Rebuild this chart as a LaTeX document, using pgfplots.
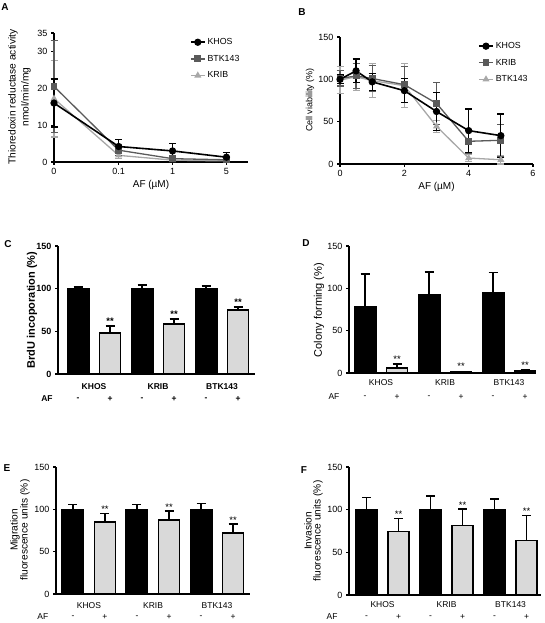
\documentclass[border=0pt]{standalone}
\usepackage{fontspec}
\setmainfont{Liberation Sans}
\usepackage{pgfplots}
\pgfplotsset{compat=1.18}
\definecolor{dg}{HTML}{5A5A5A}
\definecolor{lg}{HTML}{A8A8A8}
\definecolor{barg}{HTML}{D9D9D9}
\pgfplotsset{
  prism/.style={
    scale only axis, axis lines=left, axis line style={-, line width=1.4pt},
    tick style={line width=1.1pt, black}, tick align=outside, major tick length=3pt,
    /pgf/number format/assume math mode=true,
    tick label style={font=\fontsize{9}{10}\selectfont},
    clip=false,
  },
  barax/.style={prism, ymin=0, ymax=150, ytick={0,50,100,150}, xtick=\empty},
  blackbar/.style={ybar, bar shift=0pt, bar width=22pt, fill=black, draw=black, line width=1pt,
    error bars/y dir=plus, error bars/y explicit,
    error bars/error bar style={line width=1.5pt, black},
    error bars/error mark options={rotate=90, mark size=4.5pt, line width=1.5pt, black}},
  greybar/.style={ybar, bar shift=0pt, bar width=21pt, fill=barg, draw=black, line width=1.7pt,
    error bars/y dir=plus, error bars/y explicit,
    error bars/error bar style={line width=1.5pt, black},
    error bars/error mark options={rotate=90, mark size=4.5pt, line width=1.5pt, black}},
  lineser/.style={color=#1, line width=1.3pt, mark size=2.8pt, mark options={fill=#1, draw=#1, solid},
    error bars/y dir=both, error bars/y explicit,
    error bars/error bar style={line width=1.2pt, #1},
    error bars/error mark options={rotate=90, mark size=3.5pt, line width=1.2pt, #1}},
  leg/.style={legend style={draw=none, fill=none, inner sep=0pt, row sep=5pt,
      font=\fontsize{8.8}{10}\selectfont, legend cell align=left, anchor=north west},
    legend image code/.code={\draw[mark repeat=2, mark phase=2] plot coordinates {(0pt,0pt) (7pt,0pt) (14pt,0pt)};}},
}
\newcommand{\afrow}[1]{%
  \node at (axis cs:0,0) [yshift=#1] {-};
  \node at (axis cs:1,0) [yshift=#1] {+};
  \node at (axis cs:2,0) [yshift=#1] {-};
  \node at (axis cs:3,0) [yshift=#1] {+};
  \node at (axis cs:4,0) [yshift=#1] {-};
  \node at (axis cs:5,0) [yshift=#1] {+};}
\begin{document}
\begin{tikzpicture}[x=1pt,y=1pt,font=\fontsize{9}{10.8}\selectfont]
\path[use as bounding box] (0,0) rectangle (544,623);

% ---------- A ----------
\begin{axis}[prism, leg, at={(54pt,461pt)}, anchor=south west, width=194pt, height=129pt,
  xmin=0, xmax=3.6, ymin=0, ymax=35, xtick={0,1.2,2.2,3.2}, xticklabels={0,0.1,1,5},
  ytick={0,10,20,30,35}, reverse legend,
  legend style={at={(axis description cs:0.70,0.975)}},
  xlabel={AF (µM)}, xlabel style={yshift=2pt, font=\fontsize{10}{11}\selectfont}]
\addplot[lineser=lg, mark=triangle*] coordinates {(0,17.2) +- (0,10.4) (1.2,1.8) +- (0,0.8) (2.2,0.5) +- (0,0.4) (3.2,0.3) +- (0,0.2)};
\addplot[lineser=dg, mark=square*] coordinates {(0,20.5) +- (0,12.5) (1.2,3.2) +- (0,1.4) (2.2,0.9) +- (0,0.7) (3.2,0.6) +- (0,0.4)};
\addplot[lineser=black, mark=*, line width=1.6pt] coordinates {(0,16.0) +- (0,6.5) (1.2,4.2) +- (0,1.8) (2.2,3.0) +- (0,2.0) (3.2,1.3) +- (0,1.2)};
\legend{KRIB,BTK143,KHOS}
\end{axis}

% ---------- B ----------
\begin{axis}[prism, leg, at={(340pt,459pt)}, anchor=south west, width=193pt, height=127pt,
  xmin=0, xmax=6, ymin=0, ymax=150, xtick={0,2,4,6}, ytick={0,50,100,150}, reverse legend,
  legend style={at={(axis description cs:0.715,0.975)}},
  xlabel={AF (µM)}, xlabel style={yshift=2pt, font=\fontsize{10}{11}\selectfont}]
\addplot[lineser=lg, mark=triangle*] coordinates {(0,99) +- (0,16) (0.5,103) +- (0,16) (1,98.4) +- (0,20) (2,92.5) +- (0,26) (3,44.5) +- (0,7) (4,7) +- (0,4) (5,5) +- (0,5)};
\addplot[lineser=dg, mark=square*] coordinates {(0,101) +- (0,9) (0.5,104) +- (0,15) (1,101) +- (0,15) (2,93.7) +- (0,21) (3,71.6) +- (0,25) (4,26.8) +- (0,14) (5,28) +- (0,19)};
\addplot[lineser=black, mark=*, line width=1.6pt] coordinates {(0,100) +- (0,5) (0.5,110) +- (0,14) (1,97) +- (0,10) (2,86.6) +- (0,14) (3,62) +- (0,22.6) (4,39.4) +- (0,25.6) (5,33.5) +- (0,25.5)};
\legend{BTK143,KRIB,KHOS}
\end{axis}

% ---------- C ----------
\begin{axis}[barax, at={(58pt,249pt)}, anchor=south west, width=197pt, height=128pt,
  xmin=-0.625, xmax=5.53, tick label style={font=\bfseries\fontsize{9}{10}\selectfont}]
\addplot[blackbar] coordinates {(0,100) +- (0,2) (2,100) +- (0,4) (4,100) +- (0,3)};
\addplot[greybar] coordinates {(1,48) +- (0,8) (3,58.6) +- (0,6) (5,75) +- (0,3.5)};
\begin{scope}[font=\bfseries\fontsize{8.5}{10}\selectfont]
\node at (axis cs:0.5,0) [yshift=-13pt] {KHOS};
\node at (axis cs:2.5,0) [yshift=-13pt] {KRIB};
\node at (axis cs:4.5,0) [yshift=-13pt] {BTK143};
\node at (axis cs:-0.97,0) [yshift=-25pt] {AF};
\afrow{-25pt}
\end{scope}
\begin{scope}[font=\bfseries\fontsize{9.5}{10}\selectfont]
\node[above, inner sep=1.5pt] at (axis cs:1,56) {**};
\node[above, inner sep=1.5pt] at (axis cs:3,64.6) {**};
\node[above, inner sep=1.5pt] at (axis cs:5,78.5) {**};
\end{scope}
\end{axis}

% ---------- D ----------
\begin{axis}[barax, at={(349pt,250pt)}, anchor=south west, width=186pt, height=127pt,
  xmin=-0.5, xmax=5.31]
\addplot[blackbar] coordinates {(0,78) +- (0,39) (2,92.5) +- (0,27) (4,94.5) +- (0,24)};
\addplot[greybar] coordinates {(1,6.3) +- (0,4.5) (3,1) +- (0,0.6) (5,2) +- (0,1.5)};
\begin{scope}[font=\fontsize{8.5}{10}\selectfont]
\node at (axis cs:0.5,0) [yshift=-10pt] {KHOS};
\node at (axis cs:2.5,0) [yshift=-10pt] {KRIB};
\node at (axis cs:4.5,0) [yshift=-10pt] {BTK143};
\node at (axis cs:-0.97,0) [yshift=-24pt] {AF};
\afrow{-24pt}
\end{scope}
\begin{scope}[font=\fontsize{9.5}{10}\selectfont]
\node[above, inner sep=1.5pt] at (axis cs:1,10.8) {**};
\node[above, inner sep=1.5pt] at (axis cs:3,1.6) {**};
\node[above, inner sep=1.5pt] at (axis cs:5,3.5) {**};
\end{scope}
\end{axis}

% ---------- E ----------
\begin{axis}[barax, at={(56pt,29pt)}, anchor=south west, width=194pt, height=127pt,
  xmin=-0.53, xmax=5.53]
\addplot[blackbar] coordinates {(0,100) +- (0,6) (2,100) +- (0,6) (4,100) +- (0,7)};
\addplot[greybar] coordinates {(1,85) +- (0,10) (3,87.4) +- (0,10.5) (5,72.4) +- (0,10)};
\begin{scope}[font=\fontsize{8.5}{10}\selectfont]
\node at (axis cs:0.5,0) [yshift=-12pt] {KHOS};
\node at (axis cs:2.5,0) [yshift=-12pt] {KRIB};
\node at (axis cs:4.5,0) [yshift=-12pt] {BTK143};
\node at (axis cs:-0.94,0) [yshift=-23pt] {AF};
\afrow{-23pt}
\end{scope}
\begin{scope}[font=\fontsize{9.5}{10}\selectfont]
\node[above, inner sep=0.5pt] at (axis cs:1,95) {**};
\node[above, inner sep=0.5pt] at (axis cs:3,97.9) {**};
\node[above, inner sep=0.5pt] at (axis cs:5,82.4) {**};
\end{scope}
\end{axis}

% ---------- F ----------
\begin{axis}[barax, at={(349pt,28pt)}, anchor=south west, width=192pt, height=128pt,
  xmin=-0.55, xmax=5.45]
\addplot[blackbar] coordinates {(0,100) +- (0,14) (2,100) +- (0,16) (4,100) +- (0,12.6)};
\addplot[greybar] coordinates {(1,74.5) +- (0,15) (3,81.5) +- (0,19) (5,64) +- (0,29)};
\begin{scope}[font=\fontsize{8.5}{10}\selectfont]
\node at (axis cs:0.5,0) [yshift=-10pt] {KHOS};
\node at (axis cs:2.5,0) [yshift=-10pt] {KRIB};
\node at (axis cs:4.5,0) [yshift=-10pt] {BTK143};
\node at (axis cs:-1.08,0) [yshift=-22pt] {AF};
\afrow{-22pt}
\end{scope}
\begin{scope}[font=\fontsize{9.5}{10}\selectfont]
\node[above, inner sep=1pt] at (axis cs:1,89.5) {**};
\node[above, inner sep=1pt] at (axis cs:3,100.5) {**};
\node[above, inner sep=1pt] at (axis cs:5,93) {**};
\end{scope}
\end{axis}

% ---------- y labels ----------
\begin{scope}[font=\fontsize{10.2}{11}\selectfont]
\node[rotate=90] at (13,526) {Thioredoxin reductase activity};
\node[rotate=90] at (26,526) {nmol/min/mg};
\node[rotate=90,font=\fontsize{9}{10}\selectfont] at (310,523) {Cell viability (\%)};
\node[rotate=90,font=\bfseries\fontsize{11}{12}\selectfont] at (32,313) {BrdU incoporation (\%)};
\node[rotate=90,font=\fontsize{11}{12}\selectfont] at (319,313) {Colony forming (\%)};
\node[rotate=90] at (15,93) {Migration};
\node[rotate=90] at (25,93) {fluorescence units (\%)};
\node[rotate=90] at (308,92) {Invasion};
\node[rotate=90] at (318,92) {fluorescence units (\%)};
\end{scope}

% ---------- panel letters ----------
\begin{scope}[font=\bfseries\fontsize{10}{12}\selectfont]
\node at (5,616) {A};
\node at (302,611) {B};
\node at (8,379) {C};
\node at (306,380) {D};
\node at (7,155) {E};
\node at (304,153) {F};
\end{scope}
\end{tikzpicture}
\end{document}
